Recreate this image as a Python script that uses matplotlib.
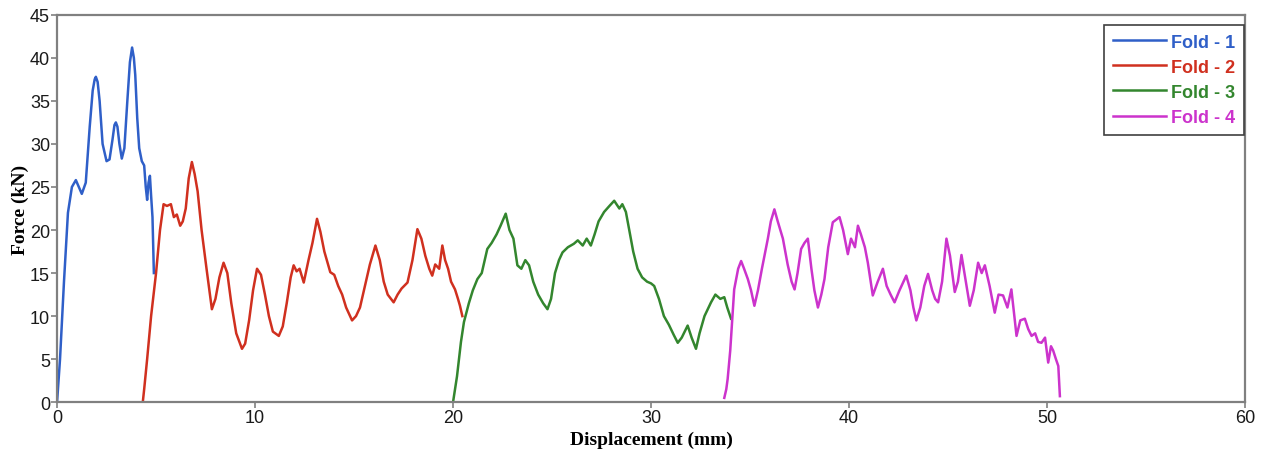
import matplotlib.pyplot as plt

# Fold 1
x1 = [0, 0.15, 0.35, 0.55, 0.75, 0.95, 1.1, 1.25, 1.45, 1.65, 1.8, 1.9, 1.96, 2.05, 2.15, 2.3, 2.5,
      2.65, 2.8, 2.9, 2.97, 3.05, 3.15, 3.27, 3.4, 3.55, 3.68, 3.79, 3.88, 3.95, 4.05, 4.15, 4.28,
      4.4, 4.48, 4.55, 4.62, 4.69, 4.75, 4.82, 4.89]
y1 = [0, 5, 14, 22, 25, 25.8, 25, 24.2, 25.5, 32, 36.2, 37.5, 37.8, 37.2, 35, 30, 28,
      28.2, 30.5, 32.2, 32.5, 32, 30, 28.3, 29.5, 35, 39.5, 41.2, 40, 38, 33, 29.5, 28,
      27.5, 25, 23.5, 25.5, 26.3, 24, 21.5, 15]

# Fold 2
x2 = [4.33, 4.4, 4.55, 4.75, 5.0, 5.2, 5.38, 5.55, 5.75, 5.9, 6.05, 6.22, 6.35, 6.5, 6.65, 6.81,
      6.95, 7.1, 7.3, 7.55, 7.82, 8.0, 8.2, 8.41, 8.6, 8.8, 9.05, 9.34, 9.5, 9.7, 9.9, 10.1,
      10.3, 10.5, 10.7, 10.9, 11.2, 11.4, 11.6, 11.8, 11.95, 12.1, 12.25, 12.46, 12.7, 12.9, 13.13,
      13.3, 13.5, 13.8, 14.0, 14.2, 14.4, 14.6, 14.9, 15.1, 15.3, 15.5, 15.8, 16.08, 16.3, 16.5,
      16.7, 17.0, 17.2, 17.4, 17.7, 17.95, 18.2, 18.4, 18.6, 18.8, 18.95, 19.1, 19.3, 19.46, 19.6,
      19.75, 19.9, 20.1, 20.25, 20.35, 20.47]
y2 = [0, 1.5, 5, 10, 15, 20, 23, 22.8, 23, 21.5, 21.8, 20.5, 21, 22.5, 26, 27.9,
      26.5, 24.5, 20, 15.5, 10.8, 12, 14.5, 16.2, 15, 11.5, 8, 6.2, 6.8, 9.5, 13, 15.5,
      14.8, 12.5, 10, 8.2, 7.7, 8.8, 11.5, 14.5, 15.9, 15.2, 15.5, 13.9, 16.5, 18.5, 21.3,
      19.8, 17.5, 15.1, 14.8, 13.5, 12.5, 11, 9.5, 10, 11, 13, 16, 18.2, 16.5, 14,
      12.5, 11.6, 12.5, 13.2, 13.9, 16.5, 20.1, 19, 17, 15.5, 14.7, 16, 15.5, 18.2, 16.5,
      15.5, 14, 13.1, 12, 11.2, 10]

# Fold 3
x3 = [20.0, 20.2, 20.4, 20.55, 20.8, 21.0, 21.23, 21.45, 21.73, 21.95, 22.2, 22.4, 22.66, 22.85,
      23.05, 23.25, 23.45, 23.65, 23.84, 24.05, 24.3, 24.55, 24.77, 24.95, 25.15, 25.35, 25.53,
      25.8, 26.1, 26.3, 26.55, 26.75, 26.96, 27.15, 27.35, 27.63, 27.9, 28.14, 28.4, 28.55, 28.73,
      28.9, 29.1, 29.32, 29.55, 29.8, 30.0, 30.16, 30.4, 30.65, 30.9, 31.15, 31.35, 31.55, 31.85,
      32.05, 32.27, 32.45, 32.7, 33.03, 33.25, 33.5, 33.7, 33.85, 34.04]
y3 = [0, 3, 7, 9.3, 11.5, 13, 14.3, 15, 17.8, 18.5, 19.5, 20.5, 21.9, 20,
      19, 15.9, 15.5, 16.5, 15.9, 14, 12.5, 11.5, 10.8, 12, 15, 16.5, 17.4,
      18, 18.4, 18.8, 18.2, 19, 18.2, 19.5, 21, 22.1, 22.8, 23.4, 22.5, 23, 22.1,
      20, 17.5, 15.5, 14.5, 14, 13.8, 13.5, 12, 10, 9, 7.8, 6.9, 7.5, 8.9,
      7.5, 6.2, 8, 10, 11.6, 12.5, 12, 12.2, 11, 9.7]

# Fold 4
x4 = [33.7, 33.8, 33.87, 34.0, 34.2, 34.4, 34.55, 34.7, 34.89, 35.05, 35.22, 35.4, 35.6, 35.9,
      36.05, 36.23, 36.4, 36.66, 36.9, 37.1, 37.25, 37.4, 37.58, 37.75, 37.92, 38.1, 38.25, 38.43,
      38.6, 38.76, 38.95, 39.18, 39.35, 39.52, 39.7, 39.94, 40.1, 40.3, 40.45, 40.6, 40.8, 40.95,
      41.2, 41.45, 41.71, 41.9, 42.1, 42.3, 42.55, 42.89, 43.1, 43.25, 43.4, 43.6, 43.8, 43.99,
      44.2, 44.35, 44.5, 44.7, 44.92, 45.1, 45.34, 45.5, 45.68, 45.9, 46.1, 46.3, 46.52, 46.7,
      46.86, 47.1, 47.36, 47.55, 47.78, 48.0, 48.2, 48.35, 48.46, 48.65, 48.88, 49.05, 49.22,
      49.4, 49.55, 49.72, 49.9, 50.06, 50.2, 50.31, 50.45, 50.57, 50.65]
y4 = [0.5, 1.5, 2.7, 6, 13.1, 15.5, 16.4, 15.5, 14.3, 13, 11.2, 13, 15.5, 19,
      21, 22.4, 21, 19, 16, 14, 13.1, 15, 17.8, 18.5, 19, 15.5, 13, 11,
      12.5, 14.3, 18, 20.9, 21.2, 21.5, 20, 17.2, 19, 18, 20.5, 19.5, 18, 16.2,
      12.4, 14, 15.5, 13.5, 12.5, 11.6, 13, 14.7, 13, 11, 9.5, 11, 13.5, 14.9,
      13, 12, 11.6, 14, 19, 17, 12.8, 14, 17.1, 14, 11.2, 13, 16.2, 15,
      15.9, 13.5, 10.4, 12.5, 12.4, 11, 13.1, 10, 7.7, 9.5, 9.7, 8.5, 7.7,
      8, 7, 6.9, 7.5, 4.6, 6.5, 6.0, 5, 4.2, 0.7]

labels = ['Fold - 1', 'Fold - 2', 'Fold - 3', 'Fold - 4']
colors = ['#2f5fc8', '#d0301f', '#33862e', '#cc33cc']

fig = plt.figure(figsize=(12.65, 4.52), dpi=100)
ax = fig.add_axes([0.0451, 0.108, 0.9391, 0.857])

for xs, ys, lab, c in zip([x1, x2, x3, x4], [y1, y2, y3, y4], labels, colors):
    ax.plot(xs, ys, color=c, lw=1.8, label=lab)

ax.set_xlim(0, 60)
ax.set_ylim(0, 45)
ax.set_xticks(range(0, 61, 10))
ax.set_yticks(range(0, 46, 5))

for s in ax.spines.values():
    s.set_color('#808080')
    s.set_linewidth(1.6)
ax.tick_params(direction='out', length=4, width=1.2, color='#808080',
               labelsize=13, pad=1)
for t in ax.get_xticklabels() + ax.get_yticklabels():
    t.set_family('Liberation Sans')
    t.set_color('#1a1a1a')

ax.set_xlabel('Displacement (mm)', family='Liberation Serif', fontweight='bold',
              fontsize=14, labelpad=3)
ax.set_ylabel('Force (kN)', family='Liberation Serif', fontweight='bold',
              fontsize=14, labelpad=1)

leg = ax.legend(loc='upper right', bbox_to_anchor=(0.999, 0.975), borderaxespad=0,
                fancybox=False, framealpha=1, edgecolor='#404040', handlelength=2.9,
                handletextpad=0.28, labelspacing=0.45, borderpad=0.5,
                prop={'family': 'Liberation Sans', 'size': 13, 'weight': 'bold'})
leg.get_frame().set_linewidth(1.2)
for t, c in zip(leg.get_texts(), colors):
    t.set_color(c)

fig.savefig('out.png', dpi=100)
